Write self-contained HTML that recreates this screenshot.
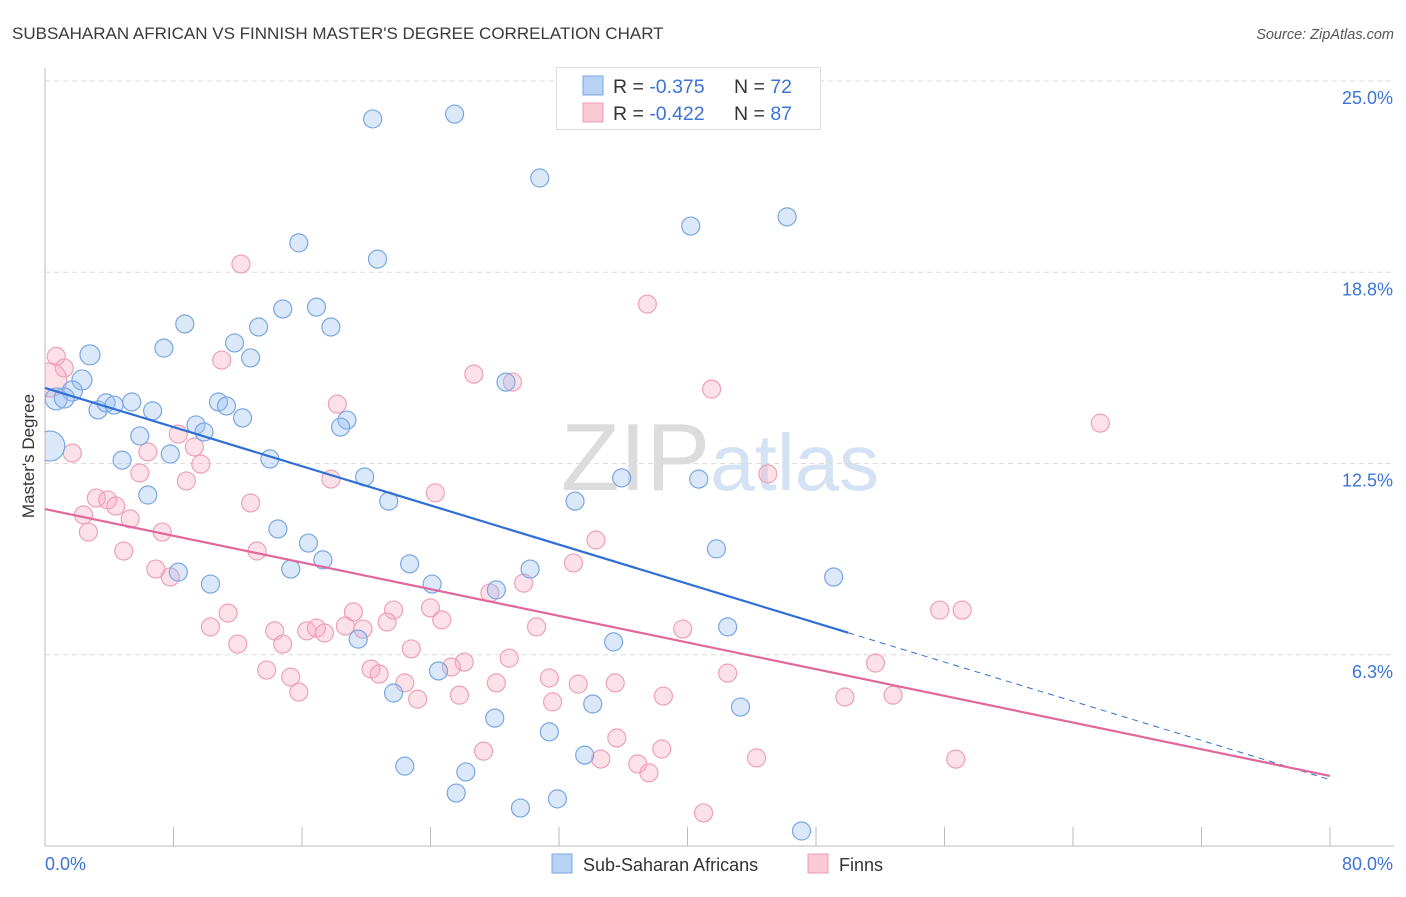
<!DOCTYPE html>
<html><head><meta charset="utf-8"><style>
body{margin:0;background:#fff;font-family:"Liberation Sans",sans-serif;}
svg text{font-family:"Liberation Sans",sans-serif;}
</style></head><body>
<svg id="chart" width="1406" height="892" xmlns="http://www.w3.org/2000/svg">
<text x="12" y="39" font-size="17" fill="#3a3a3a">SUBSAHARAN AFRICAN VS FINNISH MASTER'S DEGREE CORRELATION CHART</text>
<text x="1394" y="39" font-size="14.5" fill="#555" font-style="italic" text-anchor="end">Source: ZipAtlas.com</text>
<text x="720" y="490" font-size="96" fill="#e2e6ec" text-anchor="middle" font-family="Liberation Serif"><tspan fill="#dcdcdc">ZIP</tspan><tspan fill="#d4e2f4" font-family="Liberation Sans" font-size="80">atlas</tspan></text>
<g id="grid"></g>
<g id="axes"></g>
<defs><clipPath id="plotclip"><rect x="45" y="60" width="1361" height="786"/></clipPath></defs>
<g id="points" clip-path="url(#plotclip)"></g>
<g id="trends"></g>
<text transform="translate(34,456) rotate(-90)" font-size="17" fill="#333" text-anchor="middle">Master's Degree</text>
<g>
<rect x="556.5" y="67.5" width="264" height="62" fill="#fff" stroke="#ddd"/>
<rect x="583" y="76" width="20" height="19" fill="#b9d3f5" stroke="#7aa6e3"/>
<rect x="583" y="103" width="20" height="19" fill="#fcc9d6" stroke="#ee9bb2"/>
<text x="613" y="93" font-size="19.5" fill="#333">R = <tspan fill="#3b74d6">-0.375</tspan><tspan x="734">N = </tspan><tspan fill="#3b74d6">72</tspan></text>
<text x="613" y="120" font-size="19.5" fill="#333">R = <tspan fill="#3b74d6">-0.422</tspan><tspan x="734">N = </tspan><tspan fill="#3b74d6">87</tspan></text>
</g>
<g>
<rect x="552" y="854" width="20" height="19" fill="#b9d3f5" stroke="#7aa6e3"/>
<text x="583" y="871" font-size="18" fill="#333">Sub-Saharan Africans</text>
<rect x="808" y="854" width="20" height="19" fill="#fcc9d6" stroke="#ee9bb2"/>
<text x="839" y="871" font-size="18" fill="#333">Finns</text>
</g>
</svg>
<script>
const yTicks=[6.25,12.5,18.75,25];
const yTickLabels=["6.3%","12.5%","18.8%","25.0%"];
const xTickCount=10;
const xMin=0,xMax=80,yMin=0,yMax=25;
const blueX=[20.4,25.5,30.8,40.2,46.2,15.8,20.7,8.7,14.8,16.9,13.3,17.8,7.4,11.8,12.8,2.8,2.3,1.7,0.7,1.2,3.3,3.8,4.3,5.4,6.7,10.8,11.3,12.3,9.4,9.9,5.9,7.8,4.8,18.8,18.4,14.0,28.7,19.9,21.4,35.9,40.7,33.0,6.4,14.5,16.4,17.3,15.3,8.3,10.3,22.7,24.1,30.2,28.1,41.8,49.1,42.5,35.4,19.5,24.5,21.7,28.0,34.1,43.3,31.4,33.6,22.4,26.2,25.6,29.6,31.9,47.1,0.3];
const blueY=[23.76,23.92,21.83,20.26,20.56,19.71,19.18,17.06,17.55,17.61,16.96,16.96,16.27,16.44,15.95,16.05,15.23,14.87,14.61,14.64,14.25,14.48,14.41,14.51,14.22,14.51,14.38,13.99,13.76,13.53,13.40,12.81,12.61,13.92,13.69,12.65,15.16,12.06,11.27,12.03,11.99,11.27,11.47,10.36,9.90,9.35,9.05,8.95,8.56,9.22,8.56,9.05,8.37,9.71,8.79,7.16,6.67,6.76,5.72,5.00,4.18,4.64,4.54,3.73,2.97,2.61,2.42,1.73,1.24,1.54,0.49,13.07];
const blueSize=[9,9,9,9,9,9,9,9,9,9,9,9,9,9,9,10,10,10,11,10,9,9,9,9,9,9,9,9,9,9,9,9,9,9,9,9,9,9,9,9,9,9,9,9,9,9,9,9,9,9,9,9,9,9,9,9,9,9,9,9,9,9,9,9,9,9,9,9,9,9,9,15];
const pinkX=[12.2,37.5,11.0,0.7,1.2,0.3,26.7,29.1,41.5,18.2,65.7,8.3,9.3,1.7,6.4,9.7,5.9,8.8,17.8,24.3,45.0,12.8,3.2,3.9,4.4,2.4,5.3,2.7,7.3,4.9,13.2,34.3,32.9,6.9,7.8,29.8,27.7,21.7,19.2,24.0,11.4,10.3,14.3,16.3,16.9,17.4,18.7,19.8,21.3,24.7,30.6,39.7,55.7,57.1,12.0,14.8,22.8,13.8,15.3,20.3,20.8,26.1,25.3,28.9,51.7,42.5,22.4,28.1,31.4,33.2,35.5,15.8,25.8,23.2,31.6,38.5,49.8,52.8,35.6,27.3,38.4,34.6,36.9,37.6,44.3,56.7,41.0];
const pinkY=[19.02,17.71,15.88,16.0,15.62,15.23,15.42,15.16,14.93,14.44,13.82,13.46,13.04,12.84,12.88,12.48,12.19,11.93,11.99,11.54,12.16,11.21,11.37,11.31,11.11,10.82,10.69,10.26,10.26,9.64,9.64,10.0,9.25,9.05,8.79,8.59,8.27,7.71,7.65,7.78,7.61,7.16,7.03,7.03,7.12,6.96,7.19,7.09,7.32,7.39,7.16,7.09,7.71,7.71,6.60,6.60,6.44,5.75,5.52,5.78,5.62,6.01,5.85,6.14,5.98,5.65,5.33,5.33,5.49,5.29,5.33,5.03,4.93,4.80,4.71,4.90,4.87,4.93,3.53,3.10,3.17,2.84,2.68,2.39,2.88,2.84,1.08];
const pinkBigIndex=5;
const blueTrend=[14.97,-0.160];
const pinkTrend=[11.01,-0.109];
const blueSolidEnd=50;

const NS="http://www.w3.org/2000/svg";
const X0=45,X1=1330,Y0=846,Y1=81;
function sx(v){return X0+(v-xMin)/(xMax-xMin)*(X1-X0);}
function sy(v){return Y0-(v-yMin)/(yMax-yMin)*(Y0-Y1);}
function mk(tag,attrs,parent){const e=document.createElementNS(NS,tag);for(const k in attrs)e.setAttribute(k,attrs[k]);parent.appendChild(e);return e;}
const grid=document.getElementById('grid'),axes=document.getElementById('axes'),pts=document.getElementById('points'),tr=document.getElementById('trends');
yTicks.forEach((t,i)=>{
 const l=mk('line',{x1:X0,x2:1394,y1:sy(t),y2:sy(t),stroke:'#dcdcdc','stroke-dasharray':'5,4'},grid);
 
 
 const tx=mk('text',{x:1393,y:sy(t)+23,'font-size':18,fill:'#3b74d6','text-anchor':'end'},axes);
 tx.textContent=yTickLabels[i];
 
 
});
const la=mk('line',{x1:X0,x2:X0,y1:68,y2:Y0,stroke:'#bbb'},axes);


const ba=mk('line',{x1:X0,x2:1394,y1:Y0,y2:Y0,stroke:'#bbb'},axes);


for(let i=1;i<=xTickCount;i++){
 const v=xMin+i*(xMax-xMin)/xTickCount;
 const t=mk('line',{x1:sx(v),x2:sx(v),y1:827,y2:Y0,stroke:'#bbb'},axes);
 
 
}
const xl0=mk('text',{x:45,y:870,'font-size':18,fill:'#3b74d6'},axes);xl0.textContent='0.0%';


const xl1=mk('text',{x:1393,y:870,'font-size':18,fill:'#3b74d6','text-anchor':'end'},axes);xl1.textContent='80.0%';


pinkX.forEach((x,i)=>{
 const c=mk('circle',{cx:sx(x),cy:sy(pinkY[i]),r:i===pinkBigIndex?17:9,fill:'rgba(248,170,192,0.35)',stroke:'#eea0b6','stroke-width':1.2},pts);
 
 
});
blueX.forEach((x,i)=>{
 const c=mk('circle',{cx:sx(x),cy:sy(blueY[i]),r:blueSize[i],fill:'rgba(150,190,240,0.35)',stroke:'#7aa6e3','stroke-width':1.2},pts);
 
 
});
const bl=mk('line',{x1:sx(0),y1:sy(blueTrend[0]),x2:sx(blueSolidEnd),y2:sy(blueTrend[0]+blueTrend[1]*blueSolidEnd),stroke:'#2f6fd6','stroke-width':2.2},tr);


const bd=mk('line',{x1:sx(blueSolidEnd),y1:sy(blueTrend[0]+blueTrend[1]*blueSolidEnd),x2:sx(80),y2:sy(blueTrend[0]+blueTrend[1]*80),stroke:'#2f6fd6','stroke-width':1,'stroke-dasharray':'6,5'},tr);


const pl=mk('line',{x1:sx(0),y1:sy(pinkTrend[0]),x2:sx(80),y2:sy(pinkTrend[0]+pinkTrend[1]*80),stroke:'#e0689a','stroke-width':2.2},tr);


</script>
</body></html>
